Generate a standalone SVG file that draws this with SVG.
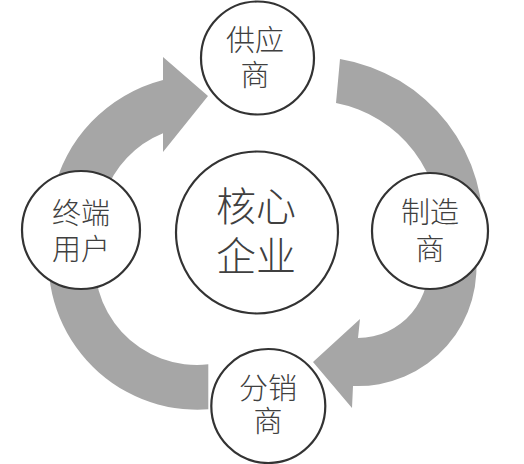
<svg xmlns="http://www.w3.org/2000/svg" width="524" height="464" viewBox="0 0 524 464">
<style>
.arrow{fill:#a6a6a6;stroke:none}
.node{fill:#ffffff;stroke:#333333;stroke-width:2.2}
.t{font-family:"Noto Sans CJK SC","Noto Sans",sans-serif;font-weight:300;fill:#404040;text-anchor:middle;dominant-baseline:central}
.s{font-size:29px}
.l{font-size:40px}
</style>
<rect width="524" height="464" fill="#ffffff"/>
<g id="connectors">
<path class="arrow" d="M52.6,195 A152,152 0 0 1 163,80 L163,57 L208,96 L163,152 L163,133.3 A102,102 0 0 0 104.5,195 Z"/>
<path class="arrow" d="M340,59 A171,171 0 0 1 482.4,242.9 L439.5,239.2 A128,128 0 0 0 336,103 Z"/>
<path class="arrow" d="M474.7,247.4 A118.5,118.5 0 0 1 353,386 L352,408 L313,362 L360,319 L358,338 A70.5,70.5 0 0 0 427.4,255.8 Z"/>
<path class="arrow" d="M50.7,234.7 A149,149 0 0 0 208.3,409.3 L208.3,364.3 A102,102 0 0 1 96.9,242.9 Z"/>
</g>
<g id="supplier">
<circle class="node" cx="257.5" cy="58" r="56.5"/>
<text class="t s"><tspan x="255" y="37.5">供应</tspan><tspan x="255" y="73">商</tspan></text>
</g>
<g id="core">
<circle class="node" cx="257" cy="232.5" r="81"/>
<text class="t l"><tspan x="256" y="204">核心</tspan><tspan x="256" y="254">企业</tspan></text>
</g>
<g id="enduser">
<circle class="node" cx="81" cy="230" r="59"/>
<text class="t s"><tspan x="81" y="211">终端</tspan><tspan x="81" y="247">用户</tspan></text>
</g>
<g id="manufacturer">
<circle class="node" cx="430" cy="231" r="58"/>
<text class="t s"><tspan x="430" y="210">制造</tspan><tspan x="430" y="247">商</tspan></text>
</g>
<g id="distributor">
<circle class="node" cx="268.3" cy="406" r="57"/>
<text class="t s"><tspan x="268" y="385.5">分销</tspan><tspan x="268" y="419">商</tspan></text>
</g>
</svg>
